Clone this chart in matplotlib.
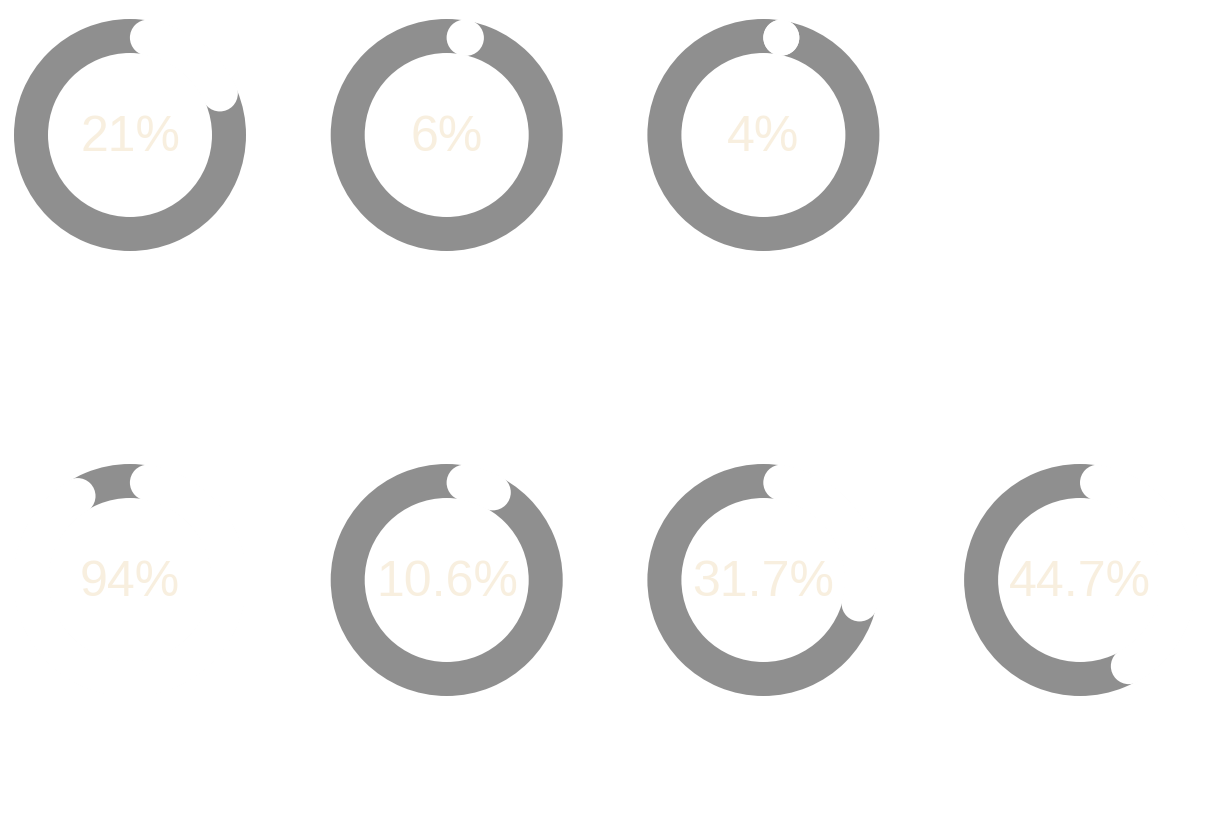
import matplotlib
matplotlib.use("Agg")
import matplotlib.pyplot as plt
import numpy as np
from matplotlib.patches import Wedge, Circle

# Waarden per donut (rij 1: 3 donuts, rij 2: 4 donuts)
labels = ["Progress", "Retention", "Fit", "Engagement", "Turnover", "Rate", "Age"]
values = [21, 6, 4, 94, 10.6, 31.7, 44.7]
value_text = ["21%", "6%", "4%", "94%", "10.6%", "31.7%", "44.7%"]
grid_slots = [(0, 0), (0, 1), (0, 2), (1, 0), (1, 1), (1, 2), (1, 3)]

W, H, DPI = 1222, 839, 100
RING_GREY = "#8f8f8f"
TEXT_CREAM = "#f8efdf"

fig = plt.figure(figsize=(W / DPI, H / DPI), dpi=DPI)
ax = fig.add_axes([0, 0, 1, 1])
ax.set_xlim(0, W)
ax.set_ylim(H, 0)
ax.set_aspect("equal")
ax.axis("off")

r_out, ring_w = 116, 34
r_mid = r_out - ring_w / 2
cap_w = 36  # px, iets breder dan de ring
cap_deg = np.degrees((cap_w / 2) / r_mid)
lw_pt = cap_w * 72 / DPI

for (row, col), val, txt, lab in zip(grid_slots, values, value_text, labels):
    cx = 130 + col * 316.7
    cy = 135 + row * 445

    # grijze achtergrondring
    ax.add_patch(Wedge((cx, cy), r_out, 0, 360, width=ring_w,
                       facecolor=RING_GREY, edgecolor="none"))

    # witte waardeboog met ronde uiteinden, rechtsom vanaf 12 uur
    start = cap_deg
    end = max(start, val / 100 * 360 - cap_deg)
    theta = np.radians(np.linspace(start, end, 200))
    xs = cx + r_mid * np.sin(theta)
    ys = cy - r_mid * np.cos(theta)
    ax.plot(xs, ys, color="white", lw=lw_pt, solid_capstyle="butt")
    for px, py in [(xs[0], ys[0]), (xs[-1], ys[-1])]:
        ax.add_patch(Circle((px, py), cap_w / 2, facecolor="white",
                            edgecolor="none", zorder=3))

    ax.text(cx, cy + 3, txt, ha="center", va="center", fontsize=36,
            color=TEXT_CREAM, family=["Liberation Sans", "DejaVu Sans"],
            zorder=4)
    ax.text(cx - 3, cy + 215, lab, ha="center", va="center", fontsize=24,
            color="white", family=["Liberation Sans", "DejaVu Sans"])

fig.savefig("out.png", dpi=DPI, facecolor="white")
